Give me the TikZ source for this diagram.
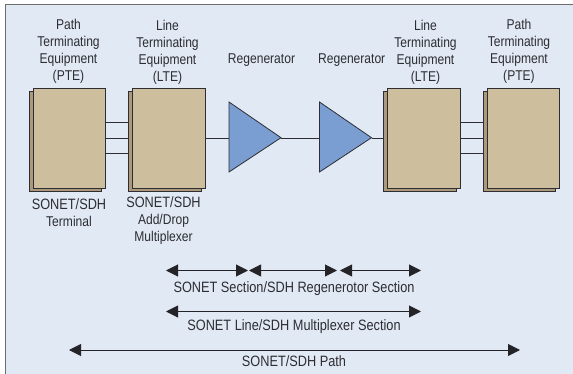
\documentclass[tikz,border=0pt]{standalone}
\usepackage{fontspec}
\setmainfont[FakeStretch=0.85]{Liberation Sans}
\usetikzlibrary{arrows.meta}
\definecolor{bgc}{RGB}{225,233,244}
\definecolor{boxc}{RGB}{205,190,157}
\definecolor{backc}{RGB}{172,152,122}
\definecolor{triC}{RGB}{122,158,210}
\definecolor{inkc}{RGB}{45,45,50}
\newcommand{\smallsz}{\fontsize{14.2}{17}\selectfont}
\tikzset{
  lab/.style={font=\fontsize{15}{17}\selectfont,text=inkc,align=center,inner sep=0,anchor=center},
  toplab/.style={lab,font=\smallsz},
  front/.style={draw=inkc,line width=.9pt,fill=boxc,minimum width=72.5pt,minimum height=100pt,inner sep=0,anchor=north west},
  back/.style={draw=inkc,line width=.9pt,fill=backc,minimum width=72.5pt,minimum height=100pt,inner sep=0,anchor=north west},
  tri/.style={draw=inkc,line width=.8pt,fill=triC},
  wire/.style={draw=inkc,line width=.9pt},
  span/.style={draw=inkc!80!black,line width=1pt,{Triangle[length=12pt,width=12pt]}-{Triangle[length=12pt,width=12pt]}}
}
\begin{document}
\begin{tikzpicture}[x=1pt,y=-1pt]
\useasboundingbox (0,0) rectangle (573,374);
\fill[white] (0,0) rectangle (573,374);
\fill[bgc] (5,5) rectangle (573,374);
\draw[inkc!70,line width=1pt] (5,374) -- (5,5) -- (573,5);
% boxes
\node[back] (b1) at (28.5,91.5) {};
\node[front] (f1) at (32.5,87.7) {};
\node[back] (b2) at (128,91.5) {};
\node[front] (f2) at (132,87.7) {};
\node[back] (b3) at (383,91.5) {};
\node[front] (f3) at (387,87.7) {};
\node[back] (b4) at (482.5,91.5) {};
\node[front] (f4) at (486.5,87.7) {};
% triangles
\coordinate (t1a) at (229,102); \coordinate (t1b) at (229,172); \coordinate (t1c) at (281,137.7);
\coordinate (t2a) at (319.5,102); \coordinate (t2b) at (319.5,172); \coordinate (t2c) at (371.5,137.7);
\coordinate (t1w) at (229,137.7); \coordinate (t2w) at (319.5,137.7);
% wires
\foreach \d in {-15.5,0,16}{
  \draw[wire] ([yshift=\d pt]f1.east) -- ([yshift=\d pt]b2.west |- f1.east);
  \draw[wire] ([yshift=\d pt]f3.east) -- ([yshift=\d pt]b4.west |- f3.east);
}
\draw[wire] (f2.east) -- (t1w |- f2.east);
\draw[wire] (t1c |- f2.east) -- (t2w |- f2.east);
\draw[wire] (t2c |- f2.east) -- (b3.west |- f2.east);
\draw[tri] (t1a) -- (t1c) -- (t1b) -- cycle;
\draw[tri] (t2a) -- (t2c) -- (t2b) -- cycle;
% labels
\node[toplab] (l1) at (68.5,51.5) {Path\\Terminating\\Equipment\\(PTE)};
\node[toplab] (l2) at (167.5,52) {Line\\Terminating\\Equipment\\(LTE)};
\node[toplab] (l3) at (261.5,60.5) {Regenerator};
\node[toplab] (l4) at (351.7,60.5) {Regenerator};
\node[toplab] (l5) at (425.5,52) {Line\\Terminating\\Equipment\\(LTE)};
\node[toplab] (l6) at (519,51.5) {Path\\Terminating\\Equipment\\(PTE)};
\node[lab] (l7) at (69,212.5) {SONET/SDH\\{\smallsz Terminal}};
\node[lab] (l8) at (163.5,220.5) {SONET/SDH\\{\smallsz Add/Drop}\\{\smallsz Multiplexer}};
\node[lab] (l9) at (294,289) {SONET Section/SDH Regenerotor Section};
\node[lab] (l10) at (294,327) {SONET Line/SDH Multiplexer Section};
\node[lab] (l11) at (294,361.5) {SONET/SDH Path};
% spans
\coordinate (a1) at (166,270.5); \coordinate (a2) at (248,270.5);
\coordinate (a3) at (249,270.5); \coordinate (a4) at (337,270.5);
\coordinate (a5) at (340,270.5); \coordinate (a6) at (421,270.5);
\coordinate (c1) at (166,311.5); \coordinate (c2) at (421,311.5);
\coordinate (d1) at (69,350); \coordinate (d2) at (520,350);
\draw[span] (a1) -- (a2);
\draw[span] (a3) -- (a4);
\draw[span] (a5) -- (a6);
\draw[span] (c1) -- (c2);
\draw[span] (d1) -- (d2);
\end{tikzpicture}
\end{document}
